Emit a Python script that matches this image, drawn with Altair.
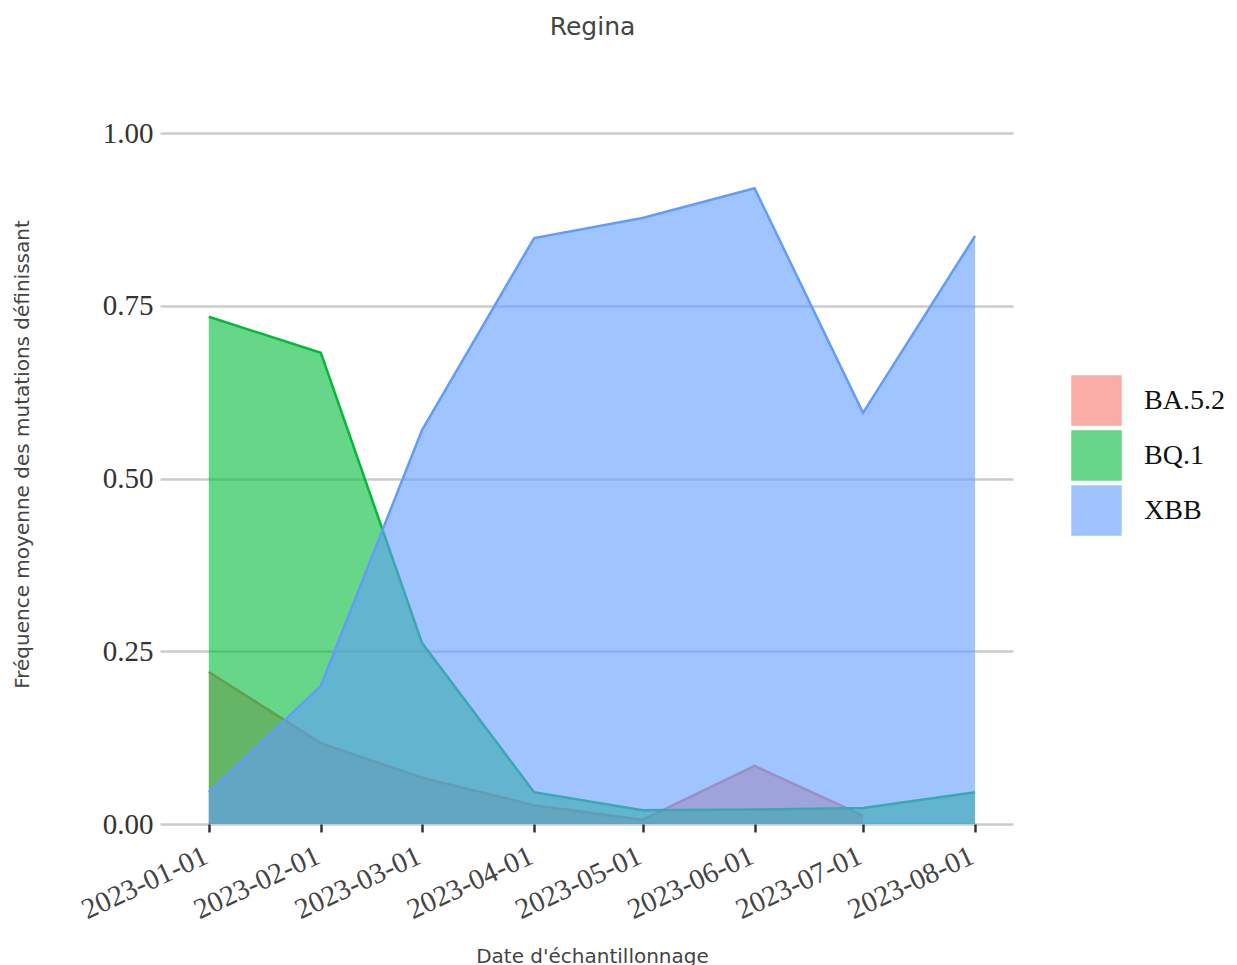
import altair as alt
import pandas as pd

dates = ["2023-01-01", "2023-02-01", "2023-03-01", "2023-04-01",
         "2023-05-01", "2023-06-01", "2023-07-01", "2023-08-01"]
ba52 = [0.220, 0.117, 0.067, 0.027, 0.006, 0.084, 0.012]
bq1 = [0.734, 0.682, 0.262, 0.046, 0.020, 0.021, 0.023, 0.046]
xbb = [0.046, 0.200, 0.570, 0.848, 0.877, 0.920, 0.595, 0.851]

variants = ["BA.5.2", "BQ.1", "XBB"]
colors = ["#F8766D", "#00BA38", "#619CFF"]

rows = []
for name, vals in zip(variants, [ba52, bq1, xbb]):
    for d, v in zip(dates, vals):
        rows.append({"date": d, "variant": name, "freq": v})
df = pd.DataFrame(rows)

serif = "Liberation Serif"
sans = "DejaVu Sans"

x_enc = alt.X("date:T",
              scale=alt.Scale(domain=["2022-12-18T12:00:00", "2023-08-11T12:00:00"]),
              axis=alt.Axis(
                  values=dates,
                  format="%Y-%m-%d",
                  labelOverlap=False,
                  labelAngle=-25,
                  labelAlign="right",
                  labelBaseline="top",
                  labelFont=serif,
                  labelFontSize=29,
                  labelColor="#444",
                  labelPadding=9,
                  labelOffset=-9,
                  tickColor="#333",
                  tickWidth=2.5,
                  tickSize=8,
                  domain=False,
                  grid=False,
                  title="Date d'échantillonnage",
                  titleFont=sans,
                  titleFontSize=20,
                  titleFontWeight="normal",
                  titleColor="#444",
                  titleX=432,
                  titleY=122,
                  titleAlign="center",
                  titleBaseline="top",
              ))
y_enc = alt.Y("freq:Q",
              stack=None,
              scale=alt.Scale(domain=[0, 1], nice=False),
              axis=alt.Axis(
                  values=[0, 0.25, 0.5, 0.75, 1.0],
                  format=".2f",
                  labelFont=serif,
                  labelFontSize=29,
                  labelColor="#333",
                  labelPadding=7,
                  ticks=False,
                  domain=False,
                  gridColor="#cccccc",
                  gridWidth=2.5,
                  title="Fréquence moyenne des mutations définissant",
                  titleFont=sans,
                  titleFontSize=20,
                  titleFontWeight="normal",
                  titleColor="#444",
                  titleAngle=-90,
                  titleX=-138,
                  titleY=321,
                  titleAlign="center",
                  titleBaseline="middle",
              ))

legend = alt.Legend(
    title=None,
    orient="none",
    legendX=911,
    legendY=242,
    symbolType="square",
    symbolSize=2300,
    symbolStrokeWidth=2.5,
    labelFont=serif,
    labelFontSize=28,
    labelColor="#111",
    labelOffset=22,
    rowPadding=-6,
)
cscale = alt.Scale(domain=variants, range=colors)

# legend carrier first: draws no marks (empty after filter), only shapes the legend
layers = [alt.Chart(df).transform_filter("datum.freq < 0").mark_square(
    fillOpacity=0.6, strokeOpacity=1, strokeWidth=2.5).encode(
    x=x_enc, y=y_enc,
    fill=alt.Fill("variant:N", scale=cscale, legend=legend),
    stroke=alt.Stroke("variant:N", scale=cscale, legend=legend))]

for v in variants:
    sub = alt.Chart(df).transform_filter(alt.datum.variant == v)
    layers.append(sub.mark_area(opacity=0.6).encode(
        x=x_enc, y=y_enc,
        fill=alt.Fill("variant:N", scale=cscale, legend=legend)))
    layers.append(sub.mark_line(strokeWidth=2.5).encode(
        x=x_enc, y=y_enc,
        stroke=alt.Stroke("variant:N", scale=cscale, legend=legend)))

chart = alt.layer(*layers).properties(
    width=853,
    height=691,
    title=alt.TitleParams(
        "Regina",
        font=sans,
        fontSize=25,
        fontWeight="normal",
        color="#444",
        anchor="middle",
        offset=79,
        dx=6,
    ),
    autosize=alt.AutoSizeParams(type="none"),
    padding={"left": 152, "top": 125, "right": 216, "bottom": 150},
).configure_view(stroke=None)

chart.save("out.html", embed_options={"renderer": "svg", "actions": False})
